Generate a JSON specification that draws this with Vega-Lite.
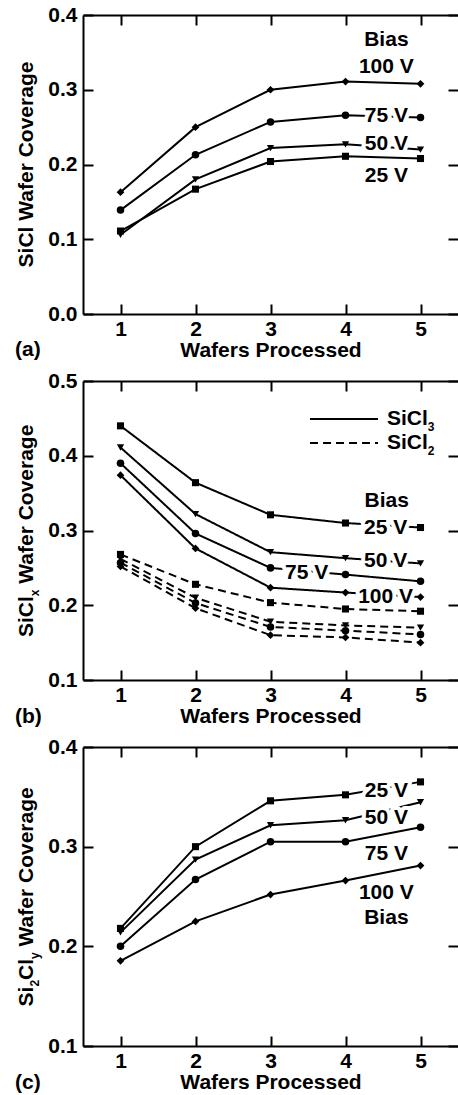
{
"$schema": "https://vega.github.io/schema/vega-lite/v6.json",
"padding": {"left": 15, "top": 4, "right": 0, "bottom": 0},
"background": "white",
"spacing": 67,
"bounds": "flush",
"config": {
  "view": {"stroke": null},
  "axis": {"domainColor": "black", "domainWidth": 2, "tickColor": "black", "tickWidth": 2, "grid": false,
    "labelFont": "Liberation Sans", "labelFontWeight": "bold", "labelFontSize": 21, "labelColor": "black",
    "titleFont": "Liberation Sans", "titleFontWeight": "bold", "titleFontSize": 21, "titleColor": "black"},
  "text": {"font": "Liberation Sans", "fontWeight": "bold", "fontSize": 21, "color": "black"}
},
"datasets": {
  "a": [
    {"bias":"25 V","wafer":1,"coverage":0.111},{"bias":"25 V","wafer":2,"coverage":0.167},{"bias":"25 V","wafer":3,"coverage":0.204},{"bias":"25 V","wafer":4,"coverage":0.211},{"bias":"25 V","wafer":5,"coverage":0.208},
    {"bias":"50 V","wafer":1,"coverage":0.106},{"bias":"50 V","wafer":2,"coverage":0.180},{"bias":"50 V","wafer":3,"coverage":0.222},{"bias":"50 V","wafer":4,"coverage":0.227},{"bias":"50 V","wafer":5,"coverage":0.220},
    {"bias":"75 V","wafer":1,"coverage":0.139},{"bias":"75 V","wafer":2,"coverage":0.213},{"bias":"75 V","wafer":3,"coverage":0.257},{"bias":"75 V","wafer":4,"coverage":0.266},{"bias":"75 V","wafer":5,"coverage":0.263},
    {"bias":"100 V","wafer":1,"coverage":0.163},{"bias":"100 V","wafer":2,"coverage":0.250},{"bias":"100 V","wafer":3,"coverage":0.300},{"bias":"100 V","wafer":4,"coverage":0.311},{"bias":"100 V","wafer":5,"coverage":0.308}
  ],
  "b": [
    {"species":"SiCl3","bias":"25 V","wafer":1,"coverage":0.440},{"species":"SiCl3","bias":"25 V","wafer":2,"coverage":0.364},{"species":"SiCl3","bias":"25 V","wafer":3,"coverage":0.321},{"species":"SiCl3","bias":"25 V","wafer":4,"coverage":0.310},{"species":"SiCl3","bias":"25 V","wafer":5,"coverage":0.304},
    {"species":"SiCl3","bias":"50 V","wafer":1,"coverage":0.411},{"species":"SiCl3","bias":"50 V","wafer":2,"coverage":0.322},{"species":"SiCl3","bias":"50 V","wafer":3,"coverage":0.271},{"species":"SiCl3","bias":"50 V","wafer":4,"coverage":0.263},{"species":"SiCl3","bias":"50 V","wafer":5,"coverage":0.256},
    {"species":"SiCl3","bias":"75 V","wafer":1,"coverage":0.390},{"species":"SiCl3","bias":"75 V","wafer":2,"coverage":0.296},{"species":"SiCl3","bias":"75 V","wafer":3,"coverage":0.250},{"species":"SiCl3","bias":"75 V","wafer":4,"coverage":0.241},{"species":"SiCl3","bias":"75 V","wafer":5,"coverage":0.232},
    {"species":"SiCl3","bias":"100 V","wafer":1,"coverage":0.374},{"species":"SiCl3","bias":"100 V","wafer":2,"coverage":0.276},{"species":"SiCl3","bias":"100 V","wafer":3,"coverage":0.2235},{"species":"SiCl3","bias":"100 V","wafer":4,"coverage":0.217},{"species":"SiCl3","bias":"100 V","wafer":5,"coverage":0.211},
    {"species":"SiCl2","bias":"25 V","wafer":1,"coverage":0.268},{"species":"SiCl2","bias":"25 V","wafer":2,"coverage":0.228},{"species":"SiCl2","bias":"25 V","wafer":3,"coverage":0.2035},{"species":"SiCl2","bias":"25 V","wafer":4,"coverage":0.195},{"species":"SiCl2","bias":"25 V","wafer":5,"coverage":0.192},
    {"species":"SiCl2","bias":"50 V","wafer":1,"coverage":0.262},{"species":"SiCl2","bias":"50 V","wafer":2,"coverage":0.210},{"species":"SiCl2","bias":"50 V","wafer":3,"coverage":0.178},{"species":"SiCl2","bias":"50 V","wafer":4,"coverage":0.173},{"species":"SiCl2","bias":"50 V","wafer":5,"coverage":0.170},
    {"species":"SiCl2","bias":"75 V","wafer":1,"coverage":0.257},{"species":"SiCl2","bias":"75 V","wafer":2,"coverage":0.203},{"species":"SiCl2","bias":"75 V","wafer":3,"coverage":0.171},{"species":"SiCl2","bias":"75 V","wafer":4,"coverage":0.166},{"species":"SiCl2","bias":"75 V","wafer":5,"coverage":0.161},
    {"species":"SiCl2","bias":"100 V","wafer":1,"coverage":0.252},{"species":"SiCl2","bias":"100 V","wafer":2,"coverage":0.196},{"species":"SiCl2","bias":"100 V","wafer":3,"coverage":0.160},{"species":"SiCl2","bias":"100 V","wafer":4,"coverage":0.157},{"species":"SiCl2","bias":"100 V","wafer":5,"coverage":0.150}
  ],
  "c": [
    {"bias":"25 V","wafer":1,"coverage":0.218},{"bias":"25 V","wafer":2,"coverage":0.300},{"bias":"25 V","wafer":3,"coverage":0.346},{"bias":"25 V","wafer":4,"coverage":0.352},{"bias":"25 V","wafer":5,"coverage":0.365},
    {"bias":"50 V","wafer":1,"coverage":0.214},{"bias":"50 V","wafer":2,"coverage":0.287},{"bias":"50 V","wafer":3,"coverage":0.3215},{"bias":"50 V","wafer":4,"coverage":0.3265},{"bias":"50 V","wafer":5,"coverage":0.3446},
    {"bias":"75 V","wafer":1,"coverage":0.200},{"bias":"75 V","wafer":2,"coverage":0.267},{"bias":"75 V","wafer":3,"coverage":0.305},{"bias":"75 V","wafer":4,"coverage":0.305},{"bias":"75 V","wafer":5,"coverage":0.3195},
    {"bias":"100 V","wafer":1,"coverage":0.1855},{"bias":"100 V","wafer":2,"coverage":0.225},{"bias":"100 V","wafer":3,"coverage":0.252},{"bias":"100 V","wafer":4,"coverage":0.266},{"bias":"100 V","wafer":5,"coverage":0.281}
  ],
  "labA": [
    {"label":"Bias","wafer":4.545,"coverage":0.368},{"label":"100 V","wafer":4.545,"coverage":0.333},{"label":"75 V","wafer":4.545,"coverage":0.267},{"label":"50 V","wafer":4.545,"coverage":0.229},{"label":"25 V","wafer":4.545,"coverage":0.187}
  ],
  "labB": [
    {"label":"Bias","wafer":4.55,"coverage":0.341},{"label":"25 V","wafer":4.535,"coverage":0.306},{"label":"50 V","wafer":4.535,"coverage":0.2606},{"label":"75 V","wafer":3.482,"coverage":0.245},{"label":"100 V","wafer":4.535,"coverage":0.2137}
  ],
  "labC": [
    {"label":"25 V","wafer":4.545,"coverage":0.357},{"label":"50 V","wafer":4.545,"coverage":0.3305},{"label":"75 V","wafer":4.545,"coverage":0.2946},{"label":"100 V","wafer":4.545,"coverage":0.255},{"label":"Bias","wafer":4.545,"coverage":0.230}
  ]
},
"vconcat": [
{
  "width": 375, "height": 299,
  "resolve": {"axis": {"x": "independent", "y": "independent"}},
  "layer": [
    {"data": {"name": "a"}, "mark": {"type": "line", "color": "black", "strokeWidth": 2},
     "encoding": {
       "x": {"field": "wafer", "type": "quantitative", "scale": {"domain": [0.5, 5.5], "nice": false, "zero": false},
             "axis": {"orient": "bottom", "values": [1,2,3,4,5], "format": "d", "title": "Wafers Processed", "titleX": 187.5, "titleY": 42, "titleBaseline": "alphabetic", "tickSize": -10, "labelPadding": 31.5, "labelBaseline": "alphabetic"}},
       "y": {"field": "coverage", "type": "quantitative", "scale": {"domain": [0, 0.4], "nice": false, "zero": false},
             "axis": {"orient": "left", "values": [0,0.1,0.2,0.3,0.4], "format": ".1f", "title": null, "tickSize": -10, "labelPadding": 16, "labelBaseline": "middle"}},
       "detail": {"field": "bias"}}},
    {"data": {"name": "a"}, "mark": {"type": "point", "filled": true, "color": "black", "opacity": 1},
     "encoding": {
       "x": {"field": "wafer", "type": "quantitative", "axis": {"orient": "top", "values": [1,2,3,4,5], "labels": false, "title": null, "tickSize": -10}},
       "y": {"field": "coverage", "type": "quantitative", "axis": {"orient": "right", "values": [0,0.1,0.2,0.3,0.4], "labels": false, "title": null, "tickSize": -10, "domain": false}},
       "shape": {"field": "bias", "scale": {"domain": ["25 V","50 V","75 V","100 V"], "range": ["square","triangle-down","circle","diamond"]}, "legend": null},
       "size": {"field": "bias", "scale": {"domain": ["25 V","50 V","75 V","100 V"], "range": [50,60,81,70]}, "legend": null}}},
    {"data": {"name": "labA"}, "mark": {"type": "text", "align": "center", "baseline": "alphabetic", "dy": 7.5, "fill": "white", "stroke": "white", "strokeWidth": 8, "strokeJoin": "round"},
     "encoding": {"x": {"field": "wafer", "type": "quantitative", "axis": null}, "y": {"field": "coverage", "type": "quantitative", "axis": null}, "text": {"field": "label"}}},
    {"data": {"name": "labA"}, "mark": {"type": "text", "align": "center", "baseline": "alphabetic", "dy": 7.5},
     "encoding": {"x": {"field": "wafer", "type": "quantitative", "axis": null}, "y": {"field": "coverage", "type": "quantitative", "axis": null}, "text": {"field": "label"}}},
    {"data": {"values": [{}]}, "mark": {"type": "text", "angle": 270, "align": "center", "baseline": "alphabetic", "dy": -50},
     "encoding": {"x": {"datum": 0.5, "type": "quantitative", "axis": null}, "y": {"datum": 0.2, "type": "quantitative", "axis": null}, "text": {"value": "SiCl Wafer Coverage"}}},
    {"data": {"values": [{}]}, "mark": {"type": "text", "align": "left", "baseline": "alphabetic", "dx": -68, "dy": 42},
     "encoding": {"x": {"datum": 0.5, "type": "quantitative", "axis": null}, "y": {"datum": 0, "type": "quantitative", "axis": null}, "text": {"value": "(a)"}}}
  ]
},
{
  "width": 375, "height": 299,
  "resolve": {"axis": {"x": "independent", "y": "independent"}},
  "layer": [
    {"data": {"name": "b"}, "mark": {"type": "line", "color": "black", "strokeWidth": 2},
     "encoding": {
       "x": {"field": "wafer", "type": "quantitative", "scale": {"domain": [0.5, 5.5], "nice": false, "zero": false},
             "axis": {"orient": "bottom", "values": [1,2,3,4,5], "format": "d", "title": "Wafers Processed", "titleX": 187.5, "titleY": 42, "titleBaseline": "alphabetic", "tickSize": -10, "labelPadding": 31.5, "labelBaseline": "alphabetic"}},
       "y": {"field": "coverage", "type": "quantitative", "scale": {"domain": [0.1, 0.5], "nice": false, "zero": false},
             "axis": {"orient": "left", "values": [0.1,0.2,0.3,0.4,0.5], "format": ".1f", "title": null, "tickSize": -10, "labelPadding": 16, "labelBaseline": "middle"}},
       "detail": [{"field": "bias"}, {"field": "species"}],
       "strokeDash": {"field": "species", "scale": {"domain": ["SiCl3","SiCl2"], "range": [[1,0],[8,5]]}, "legend": null}}},
    {"data": {"name": "b"}, "mark": {"type": "point", "filled": true, "color": "black", "opacity": 1},
     "encoding": {
       "x": {"field": "wafer", "type": "quantitative", "axis": {"orient": "top", "values": [1,2,3,4,5], "labels": false, "title": null, "tickSize": -10}},
       "y": {"field": "coverage", "type": "quantitative", "axis": {"orient": "right", "values": [0.1,0.2,0.3,0.4,0.5], "labels": false, "title": null, "tickSize": -10, "domain": false}},
       "shape": {"field": "bias", "scale": {"domain": ["25 V","50 V","75 V","100 V"], "range": ["square","triangle-down","circle","diamond"]}, "legend": null},
       "size": {"field": "bias", "scale": {"domain": ["25 V","50 V","75 V","100 V"], "range": [50,60,81,70]}, "legend": null}}},
    {"data": {"name": "labB"}, "mark": {"type": "text", "align": "center", "baseline": "alphabetic", "dy": 7.5, "fill": "white", "stroke": "white", "strokeWidth": 8, "strokeJoin": "round"},
     "encoding": {"x": {"field": "wafer", "type": "quantitative", "axis": null}, "y": {"field": "coverage", "type": "quantitative", "axis": null}, "text": {"field": "label"}}},
    {"data": {"name": "labB"}, "mark": {"type": "text", "align": "center", "baseline": "alphabetic", "dy": 7.5},
     "encoding": {"x": {"field": "wafer", "type": "quantitative", "axis": null}, "y": {"field": "coverage", "type": "quantitative", "axis": null}, "text": {"field": "label"}}},
    {"data": {"values": [{}]}, "mark": {"type": "rule", "color": "black", "strokeWidth": 2},
     "encoding": {"x": {"datum": 3.527, "type": "quantitative", "axis": null}, "x2": {"datum": 4.433}, "y": {"datum": 0.449, "type": "quantitative", "axis": null}}},
    {"data": {"values": [{}]}, "mark": {"type": "rule", "color": "black", "strokeWidth": 2, "strokeDash": [8,5]},
     "encoding": {"x": {"datum": 3.527, "type": "quantitative", "axis": null}, "x2": {"datum": 4.433}, "y": {"datum": 0.417, "type": "quantitative", "axis": null}}},
    {"data": {"values": [{}]}, "mark": {"type": "text", "align": "left", "baseline": "alphabetic", "dy": 6},
     "encoding": {"x": {"datum": 4.553, "type": "quantitative", "axis": null}, "y": {"datum": 0.449, "type": "quantitative", "axis": null}, "text": {"value": "SiCl"}}},
    {"data": {"values": [{}]}, "mark": {"type": "text", "align": "left", "baseline": "alphabetic", "dx": 40.85, "dy": 12, "fontSize": 12},
     "encoding": {"x": {"datum": 4.553, "type": "quantitative", "axis": null}, "y": {"datum": 0.449, "type": "quantitative", "axis": null}, "text": {"value": "3"}}},
    {"data": {"values": [{}]}, "mark": {"type": "text", "align": "left", "baseline": "alphabetic", "dy": 6},
     "encoding": {"x": {"datum": 4.553, "type": "quantitative", "axis": null}, "y": {"datum": 0.417, "type": "quantitative", "axis": null}, "text": {"value": "SiCl"}}},
    {"data": {"values": [{}]}, "mark": {"type": "text", "align": "left", "baseline": "alphabetic", "dx": 40.85, "dy": 12, "fontSize": 12},
     "encoding": {"x": {"datum": 4.553, "type": "quantitative", "axis": null}, "y": {"datum": 0.417, "type": "quantitative", "axis": null}, "text": {"value": "2"}}},
    {"data": {"values": [{}]}, "mark": {"type": "text", "angle": 270, "align": "left", "baseline": "alphabetic", "dx": -106.6, "dy": -50},
     "encoding": {"x": {"datum": 0.5, "type": "quantitative", "axis": null}, "y": {"datum": 0.3, "type": "quantitative", "axis": null}, "text": {"value": "SiCl"}}},
    {"data": {"values": [{}]}, "mark": {"type": "text", "angle": 270, "align": "left", "baseline": "alphabetic", "dx": -65.75, "dy": -44, "fontSize": 12},
     "encoding": {"x": {"datum": 0.5, "type": "quantitative", "axis": null}, "y": {"datum": 0.3, "type": "quantitative", "axis": null}, "text": {"value": "x"}}},
    {"data": {"values": [{}]}, "mark": {"type": "text", "angle": 270, "align": "left", "baseline": "alphabetic", "dx": -53.24, "dy": -50},
     "encoding": {"x": {"datum": 0.5, "type": "quantitative", "axis": null}, "y": {"datum": 0.3, "type": "quantitative", "axis": null}, "text": {"value": "Wafer Coverage"}}},
    {"data": {"values": [{}]}, "mark": {"type": "text", "align": "left", "baseline": "alphabetic", "dx": -68, "dy": 42.5},
     "encoding": {"x": {"datum": 0.5, "type": "quantitative", "axis": null}, "y": {"datum": 0.1, "type": "quantitative", "axis": null}, "text": {"value": "(b)"}}}
  ]
},
{
  "width": 375, "height": 299,
  "resolve": {"axis": {"x": "independent", "y": "independent"}},
  "layer": [
    {"data": {"name": "c"}, "mark": {"type": "line", "color": "black", "strokeWidth": 2},
     "encoding": {
       "x": {"field": "wafer", "type": "quantitative", "scale": {"domain": [0.5, 5.5], "nice": false, "zero": false},
             "axis": {"orient": "bottom", "values": [1,2,3,4,5], "format": "d", "title": "Wafers Processed", "titleX": 187.5, "titleY": 42, "titleBaseline": "alphabetic", "tickSize": -10, "labelPadding": 31.5, "labelBaseline": "alphabetic"}},
       "y": {"field": "coverage", "type": "quantitative", "scale": {"domain": [0.1, 0.4], "nice": false, "zero": false},
             "axis": {"orient": "left", "values": [0.1,0.2,0.3,0.4], "format": ".1f", "title": null, "tickSize": -10, "labelPadding": 16, "labelBaseline": "middle"}},
       "detail": {"field": "bias"}}},
    {"data": {"name": "c"}, "mark": {"type": "point", "filled": true, "color": "black", "opacity": 1},
     "encoding": {
       "x": {"field": "wafer", "type": "quantitative", "axis": {"orient": "top", "values": [1,2,3,4,5], "labels": false, "title": null, "tickSize": -10}},
       "y": {"field": "coverage", "type": "quantitative", "axis": {"orient": "right", "values": [0.1,0.2,0.3,0.4], "labels": false, "title": null, "tickSize": -10, "domain": false}},
       "shape": {"field": "bias", "scale": {"domain": ["25 V","50 V","75 V","100 V"], "range": ["square","triangle-up","circle","diamond"]}, "legend": null},
       "size": {"field": "bias", "scale": {"domain": ["25 V","50 V","75 V","100 V"], "range": [50,60,81,70]}, "legend": null}}},
    {"data": {"name": "labC"}, "mark": {"type": "text", "align": "center", "baseline": "alphabetic", "dy": 7.5, "fill": "white", "stroke": "white", "strokeWidth": 8, "strokeJoin": "round"},
     "encoding": {"x": {"field": "wafer", "type": "quantitative", "axis": null}, "y": {"field": "coverage", "type": "quantitative", "axis": null}, "text": {"field": "label"}}},
    {"data": {"name": "labC"}, "mark": {"type": "text", "align": "center", "baseline": "alphabetic", "dy": 7.5},
     "encoding": {"x": {"field": "wafer", "type": "quantitative", "axis": null}, "y": {"field": "coverage", "type": "quantitative", "axis": null}, "text": {"field": "label"}}},
    {"data": {"values": [{}]}, "mark": {"type": "text", "angle": 270, "align": "left", "baseline": "alphabetic", "dx": -109.95, "dy": -50},
     "encoding": {"x": {"datum": 0.5, "type": "quantitative", "axis": null}, "y": {"datum": 0.25, "type": "quantitative", "axis": null}, "text": {"value": "Si"}}},
    {"data": {"values": [{}]}, "mark": {"type": "text", "angle": 270, "align": "left", "baseline": "alphabetic", "dx": -90.1, "dy": -44, "fontSize": 12},
     "encoding": {"x": {"datum": 0.5, "type": "quantitative", "axis": null}, "y": {"datum": 0.25, "type": "quantitative", "axis": null}, "text": {"value": "2"}}},
    {"data": {"values": [{}]}, "mark": {"type": "text", "angle": 270, "align": "left", "baseline": "alphabetic", "dx": -83.43, "dy": -50},
     "encoding": {"x": {"datum": 0.5, "type": "quantitative", "axis": null}, "y": {"datum": 0.25, "type": "quantitative", "axis": null}, "text": {"value": "Cl"}}},
    {"data": {"values": [{}]}, "mark": {"type": "text", "angle": 270, "align": "left", "baseline": "alphabetic", "dx": -62.43, "dy": -44, "fontSize": 12},
     "encoding": {"x": {"datum": 0.5, "type": "quantitative", "axis": null}, "y": {"datum": 0.25, "type": "quantitative", "axis": null}, "text": {"value": "y"}}},
    {"data": {"values": [{}]}, "mark": {"type": "text", "angle": 270, "align": "left", "baseline": "alphabetic", "dx": -49.92, "dy": -50},
     "encoding": {"x": {"datum": 0.5, "type": "quantitative", "axis": null}, "y": {"datum": 0.25, "type": "quantitative", "axis": null}, "text": {"value": "Wafer Coverage"}}},
    {"data": {"values": [{}]}, "mark": {"type": "text", "align": "left", "baseline": "alphabetic", "dx": -68, "dy": 42.5},
     "encoding": {"x": {"datum": 0.5, "type": "quantitative", "axis": null}, "y": {"datum": 0.1, "type": "quantitative", "axis": null}, "text": {"value": "(c)"}}}
  ]
}
]
}
